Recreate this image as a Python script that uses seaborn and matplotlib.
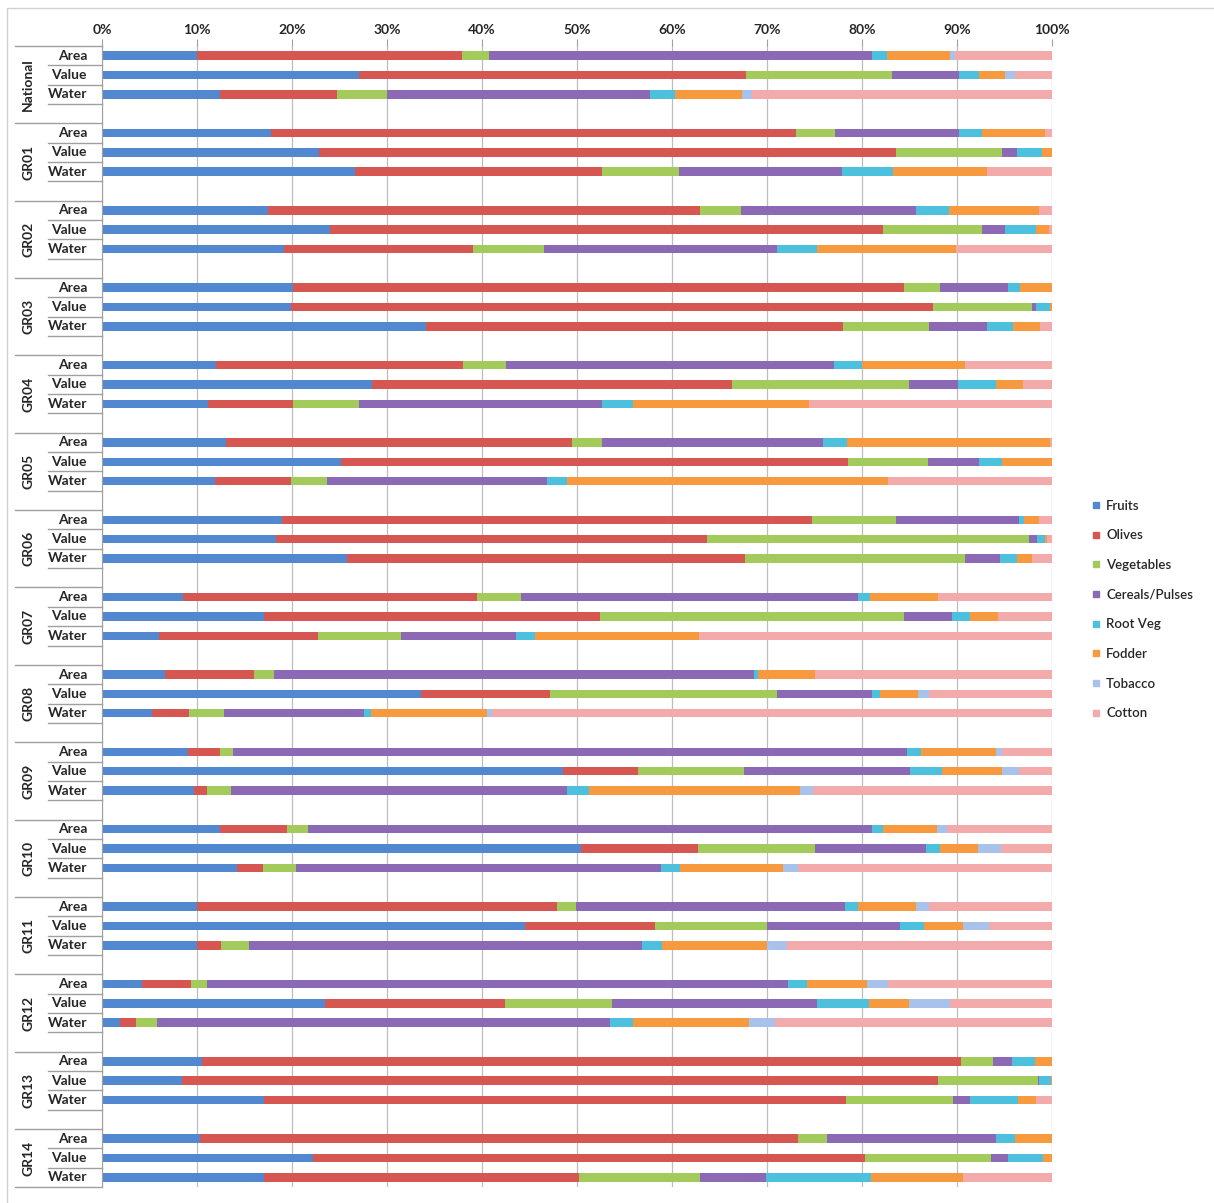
import numpy as np
import pandas as pd
import matplotlib
matplotlib.use('Agg')
import matplotlib.pyplot as plt
from matplotlib.lines import Line2D
from matplotlib.patches import Rectangle
import seaborn as sns

plt.rcParams['font.family'] = ['Lato', 'DejaVu Sans']

# groups and rows (Area / Value / Water for each region)
groups = ['National', 'GR01', 'GR02', 'GR03', 'GR04', 'GR05', 'GR06', 'GR07',
          'GR08', 'GR09', 'GR10', 'GR11', 'GR12', 'GR13', 'GR14']
rows = ['Area', 'Value', 'Water']

crops = ['Fruits', 'Olives', 'Vegetables', 'Cereals/Pulses', 'Root Veg',
         'Fodder', 'Tobacco', 'Cotton']

# shares in %, 3 values per group (Area, Value, Water)
fruits = [10.0, 27.0, 12.4, 17.8, 22.8, 26.6, 17.5, 24.0, 19.2, 20.1, 19.9, 34.1,
          12.0, 28.4, 11.2, 13.1, 25.2, 11.9, 18.9, 18.3, 25.8, 8.5, 17.1, 6.0,
          6.6, 33.6, 5.3, 9.0, 48.5, 9.7, 12.4, 50.4, 14.2, 10.0, 44.5, 10.0,
          4.2, 23.5, 1.9, 10.5, 8.4, 17.0, 10.3, 22.2, 17.1]
olives = [27.9, 40.8, 12.3, 55.3, 60.8, 26.0, 45.4, 58.2, 19.9, 64.3, 67.6, 43.9,
          26.0, 37.9, 8.9, 36.4, 53.3, 8.0, 55.8, 45.4, 41.9, 31.0, 35.3, 16.7,
          9.4, 13.6, 3.9, 3.4, 7.9, 1.3, 7.1, 12.3, 2.7, 37.9, 13.7, 2.5,
          5.2, 18.9, 1.7, 79.9, 79.6, 61.3, 63.0, 58.1, 33.1]
vegetables = [2.8, 15.4, 5.3, 4.1, 11.1, 8.1, 4.4, 10.4, 7.4, 3.8, 10.4, 9.0,
              4.5, 18.6, 7.0, 3.1, 8.4, 3.8, 8.9, 33.9, 23.1, 4.6, 32.0, 8.8,
              2.1, 23.8, 3.6, 1.4, 11.2, 2.6, 2.2, 12.3, 3.5, 2.0, 11.8, 3.0,
              1.7, 11.3, 2.2, 3.4, 10.5, 11.3, 3.0, 13.3, 12.7]
cereals = [40.3, 7.0, 27.7, 13.0, 1.6, 17.2, 18.4, 2.5, 24.6, 7.2, 0.4, 6.2,
           34.5, 5.2, 25.5, 23.3, 5.4, 23.1, 12.9, 0.8, 3.7, 35.5, 5.1, 12.1,
           50.5, 10.1, 14.8, 70.9, 17.4, 35.3, 59.3, 11.7, 38.4, 28.3, 14.0, 41.3,
           61.1, 21.6, 47.7, 2.0, 0.1, 1.8, 17.8, 1.8, 7.0]
root_veg = [1.6, 2.1, 2.6, 2.4, 2.6, 5.4, 3.5, 3.2, 4.2, 1.2, 1.5, 2.7,
            3.0, 4.0, 3.3, 2.5, 2.4, 2.1, 0.6, 0.9, 1.8, 1.2, 1.9, 2.0,
            0.5, 0.8, 0.7, 1.5, 3.4, 2.4, 1.2, 1.5, 2.0, 1.4, 2.5, 2.1,
            2.0, 5.4, 2.4, 2.4, 1.3, 5.0, 2.0, 3.7, 11.0]
fodder = [6.7, 2.8, 7.1, 6.7, 1.1, 9.9, 9.4, 1.4, 14.6, 3.4, 0.2, 2.8,
          10.8, 2.8, 18.5, 21.4, 5.3, 33.8, 1.5, 0.2, 1.6, 7.2, 2.9, 17.2,
          5.9, 4.0, 12.2, 7.9, 6.3, 22.2, 5.7, 4.0, 10.9, 6.1, 4.1, 11.1,
          6.3, 4.2, 12.2, 1.8, 0.1, 1.9, 3.9, 0.9, 9.7]
tobacco = [0.5, 1.0, 1.0, 0, 0, 0, 0, 0, 0, 0, 0, 0,
           0, 0, 0, 0, 0, 0, 0, 0, 0, 0, 0, 0,
           0, 1.2, 0.6, 0.6, 1.8, 1.3, 1.0, 2.4, 1.6, 1.3, 2.8, 2.1,
           2.2, 4.4, 2.7, 0, 0, 0, 0, 0, 0]
cotton = [10.2, 3.9, 31.6, 0.7, 0, 6.8, 1.4, 0.3, 10.1, 0, 0, 1.3,
          9.2, 3.1, 25.6, 0.2, 0, 17.3, 1.4, 0.5, 2.1, 12.0, 5.7, 37.2,
          25.0, 12.9, 58.9, 5.3, 3.5, 25.2, 11.1, 5.4, 26.7, 13.0, 6.6, 27.9,
          17.3, 10.7, 29.2, 0, 0, 1.7, 0, 0, 9.4]

colors = ['#5288D0', '#D65652', '#A3CB5C', '#8B69B5', '#4CC0DD', '#F7993F',
          '#A8C2EC', '#F3AAAA']

# table: one line per slot, blank slot after each group (except last)
series = [fruits, olives, vegetables, cereals, root_veg, fodder, tobacco, cotton]
recs = []
i = 0
for gi, g in enumerate(groups):
    for r in rows:
        vals = np.array([s[i] for s in series])
        vals = vals / vals.sum() * 100  # 100% stacked
        recs.append([g + ' ' + r] + list(vals))
        i += 1
    if gi < len(groups) - 1:
        recs.append([g + ' gap'] + [0.0] * 8)
df = pd.DataFrame(recs, columns=['slot'] + crops)
order = list(df['slot'])
cum = df[crops].cumsum(axis=1)
cum['slot'] = df['slot']

plt.figure(figsize=(12.14, 12.03), dpi=100)
fig = plt.gcf()
ax = fig.add_axes([102/1214, 1 - 1187/1203, 950/1214, (1187 - 46)/1203])

# draw cumulative bars from the back so each crop sits on top of the next
for k in range(len(crops) - 1, -1, -1):
    sns.barplot(data=cum, x=crops[k], y='slot', order=order, orient='h',
                color=colors[k], saturation=1, width=0.44, errorbar=None,
                linewidth=0, ax=ax)

txt = '#262626'
ax.set_xlim(0, 100)
ax.set_ylim(len(order) - 0.5, -0.5)
ax.set_xticks(range(0, 101, 10))
ax.set_xticklabels([str(v) + '%' for v in range(0, 101, 10)],
                   fontsize=10, fontweight='bold', color=txt)
ax.xaxis.tick_top()
ax.tick_params(axis='x', length=5, color='#A0A0A0', pad=2)
ax.set_xlabel('')
ax.set_ylabel('')
ax.set_yticks([])
ax.grid(axis='x', color='#BDBDBD', lw=0.9)
ax.set_axisbelow(True)
for s in ['top', 'right', 'bottom']:
    ax.spines[s].set_visible(False)
ax.spines['left'].set_color('#A0A0A0')

# category labels and divider lines on the left
tr = ax.get_yaxis_transform()
short_x = (48 - 102) / 950
long_x = (15 - 102) / 950
ax.plot([long_x, 0], [-0.5, -0.5], color='#A0A0A0', lw=1, transform=tr, clip_on=False)
for gi, g in enumerate(groups):
    base = gi * 4
    for ri, r in enumerate(rows):
        ax.text((87 - 102) / 950, base + ri, r, transform=tr, ha='right',
                va='center', fontsize=10, fontweight='bold', color=txt)
    for b in [0.5, 1.5]:
        ax.plot([short_x, 0], [base + b] * 2, color='#A0A0A0', lw=1,
                transform=tr, clip_on=False)
    if gi < len(groups) - 1:
        ax.plot([short_x, 0], [base + 2.5] * 2, color='#A0A0A0', lw=1,
                transform=tr, clip_on=False)
        ax.plot([long_x, 0], [base + 3.5] * 2, color='#A0A0A0', lw=1,
                transform=tr, clip_on=False)
        mid = base + 1.5
    else:
        ax.plot([long_x, 0], [base + 2.5] * 2, color='#A0A0A0', lw=1,
                transform=tr, clip_on=False)
        mid = base + 1.0
    ax.text((28 - 102) / 950, mid, g, transform=tr, rotation=90, ha='center',
            va='center', fontsize=10, fontweight='bold', color=txt)

# legend
handles = [Line2D([], [], marker='s', ls='', markersize=5, color=c) for c in colors]
leg = fig.legend(handles, crops, loc='center left',
                 bbox_to_anchor=(1081/1214, 1 - 609.5/1203),
                 frameon=False, handlelength=0.5, handletextpad=0.5,
                 labelspacing=1.34, prop={'size': 9.5, 'weight': 'semibold'})
for t in leg.get_texts():
    t.set_color(txt)

# light chart border
fig.patches.append(Rectangle((7/1214, -0.01), 1.05, 1 - 8/1203 + 0.01,
                             transform=fig.transFigure, fill=False,
                             edgecolor='#D0D0D0', lw=1))

plt.savefig('out.png', dpi=100)
